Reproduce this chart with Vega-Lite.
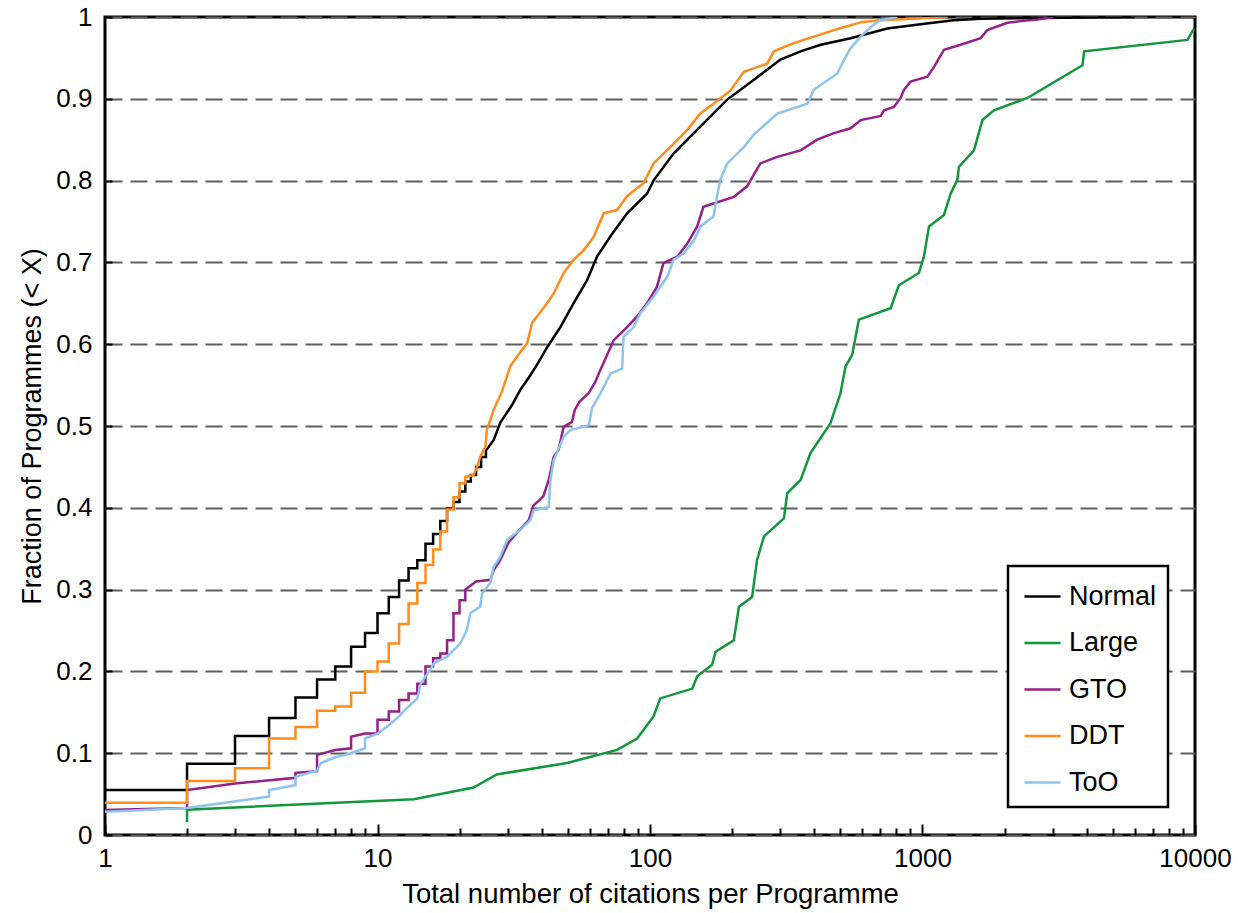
{
  "$schema": "https://vega.github.io/schema/vega-lite/v6.json",
  "width": 1090,
  "height": 818,
  "autosize": {"type": "none"},
  "padding": {"left": 105, "top": 17, "right": 43, "bottom": 78},
  "background": "white",
  "config": {
    "view": {"stroke": "black", "strokeWidth": 3},
    "font": "Liberation Sans",
    "legend": {"strokeWidth": 2.5}
  },
  "data": {
    "values": [
      {"series": "Normal", "citations": 1, "fraction": 0.055},
      {"series": "Normal", "citations": 2, "fraction": 0.055},
      {"series": "Normal", "citations": 2, "fraction": 0.087},
      {"series": "Normal", "citations": 3, "fraction": 0.087},
      {"series": "Normal", "citations": 3, "fraction": 0.121},
      {"series": "Normal", "citations": 4, "fraction": 0.121},
      {"series": "Normal", "citations": 4, "fraction": 0.143},
      {"series": "Normal", "citations": 5, "fraction": 0.143},
      {"series": "Normal", "citations": 5, "fraction": 0.168},
      {"series": "Normal", "citations": 6, "fraction": 0.168},
      {"series": "Normal", "citations": 6, "fraction": 0.19},
      {"series": "Normal", "citations": 7, "fraction": 0.19},
      {"series": "Normal", "citations": 7, "fraction": 0.206},
      {"series": "Normal", "citations": 8, "fraction": 0.206},
      {"series": "Normal", "citations": 8, "fraction": 0.23},
      {"series": "Normal", "citations": 9, "fraction": 0.23},
      {"series": "Normal", "citations": 9, "fraction": 0.247},
      {"series": "Normal", "citations": 10, "fraction": 0.247},
      {"series": "Normal", "citations": 10, "fraction": 0.271},
      {"series": "Normal", "citations": 11, "fraction": 0.271},
      {"series": "Normal", "citations": 11, "fraction": 0.291},
      {"series": "Normal", "citations": 12, "fraction": 0.291},
      {"series": "Normal", "citations": 12, "fraction": 0.311},
      {"series": "Normal", "citations": 13, "fraction": 0.311},
      {"series": "Normal", "citations": 13, "fraction": 0.326},
      {"series": "Normal", "citations": 14, "fraction": 0.326},
      {"series": "Normal", "citations": 14, "fraction": 0.336},
      {"series": "Normal", "citations": 15, "fraction": 0.336},
      {"series": "Normal", "citations": 15, "fraction": 0.356},
      {"series": "Normal", "citations": 16, "fraction": 0.356},
      {"series": "Normal", "citations": 16, "fraction": 0.368},
      {"series": "Normal", "citations": 17, "fraction": 0.368},
      {"series": "Normal", "citations": 17, "fraction": 0.384},
      {"series": "Normal", "citations": 18, "fraction": 0.384},
      {"series": "Normal", "citations": 18, "fraction": 0.399},
      {"series": "Normal", "citations": 19, "fraction": 0.399},
      {"series": "Normal", "citations": 19, "fraction": 0.407},
      {"series": "Normal", "citations": 20, "fraction": 0.407},
      {"series": "Normal", "citations": 20, "fraction": 0.42},
      {"series": "Normal", "citations": 21, "fraction": 0.42},
      {"series": "Normal", "citations": 21, "fraction": 0.432},
      {"series": "Normal", "citations": 22, "fraction": 0.432},
      {"series": "Normal", "citations": 22, "fraction": 0.44},
      {"series": "Normal", "citations": 23, "fraction": 0.44},
      {"series": "Normal", "citations": 23, "fraction": 0.45},
      {"series": "Normal", "citations": 24, "fraction": 0.45},
      {"series": "Normal", "citations": 24, "fraction": 0.462},
      {"series": "Normal", "citations": 25, "fraction": 0.462},
      {"series": "Normal", "citations": 25, "fraction": 0.47},
      {"series": "Normal", "citations": 26.7, "fraction": 0.483},
      {"series": "Normal", "citations": 28.2, "fraction": 0.504},
      {"series": "Normal", "citations": 29.4, "fraction": 0.513},
      {"series": "Normal", "citations": 31.2, "fraction": 0.526},
      {"series": "Normal", "citations": 33.4, "fraction": 0.544},
      {"series": "Normal", "citations": 36.4, "fraction": 0.562},
      {"series": "Normal", "citations": 38.5, "fraction": 0.575},
      {"series": "Normal", "citations": 41.9, "fraction": 0.596},
      {"series": "Normal", "citations": 46.9, "fraction": 0.621},
      {"series": "Normal", "citations": 52.4, "fraction": 0.65},
      {"series": "Normal", "citations": 58.7, "fraction": 0.678},
      {"series": "Normal", "citations": 63.9, "fraction": 0.707},
      {"series": "Normal", "citations": 71.6, "fraction": 0.732},
      {"series": "Normal", "citations": 82.4, "fraction": 0.76},
      {"series": "Normal", "citations": 97.5, "fraction": 0.784},
      {"series": "Normal", "citations": 103, "fraction": 0.8},
      {"series": "Normal", "citations": 122, "fraction": 0.833},
      {"series": "Normal", "citations": 153, "fraction": 0.866},
      {"series": "Normal", "citations": 192, "fraction": 0.899},
      {"series": "Normal", "citations": 240, "fraction": 0.923},
      {"series": "Normal", "citations": 301, "fraction": 0.948},
      {"series": "Normal", "citations": 357, "fraction": 0.958},
      {"series": "Normal", "citations": 423, "fraction": 0.966},
      {"series": "Normal", "citations": 545, "fraction": 0.974},
      {"series": "Normal", "citations": 743, "fraction": 0.986},
      {"series": "Normal", "citations": 984, "fraction": 0.991},
      {"series": "Normal", "citations": 1300, "fraction": 0.996},
      {"series": "Normal", "citations": 1634, "fraction": 0.998},
      {"series": "Normal", "citations": 6000, "fraction": 1.0},

      {"series": "Large", "citations": 2, "fraction": 0.016},
      {"series": "Large", "citations": 2, "fraction": 0.031},
      {"series": "Large", "citations": 13.6, "fraction": 0.0436},
      {"series": "Large", "citations": 22.5, "fraction": 0.058},
      {"series": "Large", "citations": 27.4, "fraction": 0.074},
      {"series": "Large", "citations": 49.6, "fraction": 0.088},
      {"series": "Large", "citations": 75.7, "fraction": 0.104},
      {"series": "Large", "citations": 89.7, "fraction": 0.118},
      {"series": "Large", "citations": 103, "fraction": 0.145},
      {"series": "Large", "citations": 109, "fraction": 0.167},
      {"series": "Large", "citations": 143, "fraction": 0.179},
      {"series": "Large", "citations": 149, "fraction": 0.194},
      {"series": "Large", "citations": 169, "fraction": 0.208},
      {"series": "Large", "citations": 174, "fraction": 0.224},
      {"series": "Large", "citations": 203, "fraction": 0.238},
      {"series": "Large", "citations": 212, "fraction": 0.279},
      {"series": "Large", "citations": 237, "fraction": 0.291},
      {"series": "Large", "citations": 247, "fraction": 0.336},
      {"series": "Large", "citations": 262, "fraction": 0.365},
      {"series": "Large", "citations": 310, "fraction": 0.387},
      {"series": "Large", "citations": 319, "fraction": 0.418},
      {"series": "Large", "citations": 357, "fraction": 0.434},
      {"series": "Large", "citations": 388, "fraction": 0.467},
      {"series": "Large", "citations": 459, "fraction": 0.503},
      {"series": "Large", "citations": 500, "fraction": 0.54},
      {"series": "Large", "citations": 522, "fraction": 0.573},
      {"series": "Large", "citations": 552, "fraction": 0.587},
      {"series": "Large", "citations": 584, "fraction": 0.63},
      {"series": "Large", "citations": 764, "fraction": 0.644},
      {"series": "Large", "citations": 819, "fraction": 0.672},
      {"series": "Large", "citations": 970, "fraction": 0.687},
      {"series": "Large", "citations": 1012, "fraction": 0.707},
      {"series": "Large", "citations": 1056, "fraction": 0.744},
      {"series": "Large", "citations": 1199, "fraction": 0.758},
      {"series": "Large", "citations": 1268, "fraction": 0.784},
      {"series": "Large", "citations": 1342, "fraction": 0.801},
      {"series": "Large", "citations": 1361, "fraction": 0.817},
      {"series": "Large", "citations": 1545, "fraction": 0.837},
      {"series": "Large", "citations": 1659, "fraction": 0.874},
      {"series": "Large", "citations": 1829, "fraction": 0.886},
      {"series": "Large", "citations": 2427, "fraction": 0.901},
      {"series": "Large", "citations": 3863, "fraction": 0.941},
      {"series": "Large", "citations": 3919, "fraction": 0.958},
      {"series": "Large", "citations": 9380, "fraction": 0.972},
      {"series": "Large", "citations": 9930, "fraction": 0.986},

      {"series": "GTO", "citations": 1, "fraction": 0.0306},
      {"series": "GTO", "citations": 2, "fraction": 0.033},
      {"series": "GTO", "citations": 2, "fraction": 0.055},
      {"series": "GTO", "citations": 3, "fraction": 0.063},
      {"series": "GTO", "citations": 5, "fraction": 0.07},
      {"series": "GTO", "citations": 5, "fraction": 0.076},
      {"series": "GTO", "citations": 6, "fraction": 0.078},
      {"series": "GTO", "citations": 6, "fraction": 0.098},
      {"series": "GTO", "citations": 7, "fraction": 0.104},
      {"series": "GTO", "citations": 8, "fraction": 0.106},
      {"series": "GTO", "citations": 8, "fraction": 0.12},
      {"series": "GTO", "citations": 9, "fraction": 0.124},
      {"series": "GTO", "citations": 10, "fraction": 0.124},
      {"series": "GTO", "citations": 10, "fraction": 0.141},
      {"series": "GTO", "citations": 11, "fraction": 0.141},
      {"series": "GTO", "citations": 11, "fraction": 0.151},
      {"series": "GTO", "citations": 12, "fraction": 0.151},
      {"series": "GTO", "citations": 12, "fraction": 0.165},
      {"series": "GTO", "citations": 13, "fraction": 0.165},
      {"series": "GTO", "citations": 13, "fraction": 0.173},
      {"series": "GTO", "citations": 14, "fraction": 0.173},
      {"series": "GTO", "citations": 14, "fraction": 0.185},
      {"series": "GTO", "citations": 15, "fraction": 0.185},
      {"series": "GTO", "citations": 15, "fraction": 0.206},
      {"series": "GTO", "citations": 16, "fraction": 0.206},
      {"series": "GTO", "citations": 16, "fraction": 0.216},
      {"series": "GTO", "citations": 17, "fraction": 0.216},
      {"series": "GTO", "citations": 17, "fraction": 0.222},
      {"series": "GTO", "citations": 18, "fraction": 0.222},
      {"series": "GTO", "citations": 18, "fraction": 0.238},
      {"series": "GTO", "citations": 19, "fraction": 0.238},
      {"series": "GTO", "citations": 19, "fraction": 0.271},
      {"series": "GTO", "citations": 20, "fraction": 0.271},
      {"series": "GTO", "citations": 20, "fraction": 0.287},
      {"series": "GTO", "citations": 21, "fraction": 0.287},
      {"series": "GTO", "citations": 21, "fraction": 0.3},
      {"series": "GTO", "citations": 23, "fraction": 0.31},
      {"series": "GTO", "citations": 26, "fraction": 0.312},
      {"series": "GTO", "citations": 26.7, "fraction": 0.324},
      {"series": "GTO", "citations": 28.2, "fraction": 0.336},
      {"series": "GTO", "citations": 30.2, "fraction": 0.357},
      {"series": "GTO", "citations": 32, "fraction": 0.367},
      {"series": "GTO", "citations": 35.9, "fraction": 0.385},
      {"series": "GTO", "citations": 37.4, "fraction": 0.403},
      {"series": "GTO", "citations": 40.6, "fraction": 0.414},
      {"series": "GTO", "citations": 42.5, "fraction": 0.434},
      {"series": "GTO", "citations": 44.3, "fraction": 0.462},
      {"series": "GTO", "citations": 46.2, "fraction": 0.471},
      {"series": "GTO", "citations": 48.2, "fraction": 0.499},
      {"series": "GTO", "citations": 51.7, "fraction": 0.505},
      {"series": "GTO", "citations": 53, "fraction": 0.52},
      {"series": "GTO", "citations": 55.2, "fraction": 0.53},
      {"series": "GTO", "citations": 59.5, "fraction": 0.54},
      {"series": "GTO", "citations": 63, "fraction": 0.554},
      {"series": "GTO", "citations": 65.6, "fraction": 0.568},
      {"series": "GTO", "citations": 73.6, "fraction": 0.605},
      {"series": "GTO", "citations": 82.4, "fraction": 0.621},
      {"series": "GTO", "citations": 89.7, "fraction": 0.634},
      {"series": "GTO", "citations": 97.5, "fraction": 0.65},
      {"series": "GTO", "citations": 106, "fraction": 0.67},
      {"series": "GTO", "citations": 112, "fraction": 0.699},
      {"series": "GTO", "citations": 126, "fraction": 0.707},
      {"series": "GTO", "citations": 137, "fraction": 0.723},
      {"series": "GTO", "citations": 149, "fraction": 0.744},
      {"series": "GTO", "citations": 157, "fraction": 0.768},
      {"series": "GTO", "citations": 171, "fraction": 0.772},
      {"series": "GTO", "citations": 203, "fraction": 0.78},
      {"series": "GTO", "citations": 227, "fraction": 0.793},
      {"series": "GTO", "citations": 254, "fraction": 0.821},
      {"series": "GTO", "citations": 293, "fraction": 0.829},
      {"series": "GTO", "citations": 357, "fraction": 0.837},
      {"series": "GTO", "citations": 411, "fraction": 0.85},
      {"series": "GTO", "citations": 473, "fraction": 0.858},
      {"series": "GTO", "citations": 545, "fraction": 0.864},
      {"series": "GTO", "citations": 593, "fraction": 0.874},
      {"series": "GTO", "citations": 703, "fraction": 0.879},
      {"series": "GTO", "citations": 722, "fraction": 0.886},
      {"series": "GTO", "citations": 785, "fraction": 0.89},
      {"series": "GTO", "citations": 831, "fraction": 0.901},
      {"series": "GTO", "citations": 855, "fraction": 0.911},
      {"series": "GTO", "citations": 904, "fraction": 0.921},
      {"series": "GTO", "citations": 1042, "fraction": 0.927},
      {"series": "GTO", "citations": 1102, "fraction": 0.939},
      {"series": "GTO", "citations": 1199, "fraction": 0.96},
      {"series": "GTO", "citations": 1380, "fraction": 0.966},
      {"series": "GTO", "citations": 1634, "fraction": 0.974},
      {"series": "GTO", "citations": 1729, "fraction": 0.984},
      {"series": "GTO", "citations": 2048, "fraction": 0.993},
      {"series": "GTO", "citations": 2291, "fraction": 0.995},
      {"series": "GTO", "citations": 2640, "fraction": 0.997},
      {"series": "GTO", "citations": 3030, "fraction": 1.0},

      {"series": "DDT", "citations": 1, "fraction": 0.0395},
      {"series": "DDT", "citations": 2, "fraction": 0.0395},
      {"series": "DDT", "citations": 2, "fraction": 0.066},
      {"series": "DDT", "citations": 3, "fraction": 0.066},
      {"series": "DDT", "citations": 3, "fraction": 0.0815},
      {"series": "DDT", "citations": 4, "fraction": 0.0815},
      {"series": "DDT", "citations": 4, "fraction": 0.118},
      {"series": "DDT", "citations": 5, "fraction": 0.118},
      {"series": "DDT", "citations": 5, "fraction": 0.132},
      {"series": "DDT", "citations": 6, "fraction": 0.132},
      {"series": "DDT", "citations": 6, "fraction": 0.152},
      {"series": "DDT", "citations": 7, "fraction": 0.152},
      {"series": "DDT", "citations": 7, "fraction": 0.157},
      {"series": "DDT", "citations": 8, "fraction": 0.157},
      {"series": "DDT", "citations": 8, "fraction": 0.174},
      {"series": "DDT", "citations": 9, "fraction": 0.174},
      {"series": "DDT", "citations": 9, "fraction": 0.2},
      {"series": "DDT", "citations": 10, "fraction": 0.2},
      {"series": "DDT", "citations": 10, "fraction": 0.212},
      {"series": "DDT", "citations": 11, "fraction": 0.212},
      {"series": "DDT", "citations": 11, "fraction": 0.234},
      {"series": "DDT", "citations": 12, "fraction": 0.234},
      {"series": "DDT", "citations": 12, "fraction": 0.258},
      {"series": "DDT", "citations": 13, "fraction": 0.258},
      {"series": "DDT", "citations": 13, "fraction": 0.283},
      {"series": "DDT", "citations": 14, "fraction": 0.283},
      {"series": "DDT", "citations": 14, "fraction": 0.308},
      {"series": "DDT", "citations": 15, "fraction": 0.308},
      {"series": "DDT", "citations": 15, "fraction": 0.33},
      {"series": "DDT", "citations": 16, "fraction": 0.33},
      {"series": "DDT", "citations": 16, "fraction": 0.349},
      {"series": "DDT", "citations": 17, "fraction": 0.349},
      {"series": "DDT", "citations": 17, "fraction": 0.371},
      {"series": "DDT", "citations": 18, "fraction": 0.371},
      {"series": "DDT", "citations": 18, "fraction": 0.398},
      {"series": "DDT", "citations": 19, "fraction": 0.398},
      {"series": "DDT", "citations": 19, "fraction": 0.413},
      {"series": "DDT", "citations": 20, "fraction": 0.413},
      {"series": "DDT", "citations": 20, "fraction": 0.43},
      {"series": "DDT", "citations": 21, "fraction": 0.43},
      {"series": "DDT", "citations": 21, "fraction": 0.438},
      {"series": "DDT", "citations": 22.5, "fraction": 0.44},
      {"series": "DDT", "citations": 23.2, "fraction": 0.45},
      {"series": "DDT", "citations": 23.8, "fraction": 0.462},
      {"series": "DDT", "citations": 24.9, "fraction": 0.475},
      {"series": "DDT", "citations": 25.2, "fraction": 0.495},
      {"series": "DDT", "citations": 26.7, "fraction": 0.52},
      {"series": "DDT", "citations": 28.6, "fraction": 0.542},
      {"series": "DDT", "citations": 29.4, "fraction": 0.554},
      {"series": "DDT", "citations": 30.7, "fraction": 0.573},
      {"series": "DDT", "citations": 32.5, "fraction": 0.585},
      {"series": "DDT", "citations": 35.4, "fraction": 0.601},
      {"series": "DDT", "citations": 36.9, "fraction": 0.626},
      {"series": "DDT", "citations": 41.9, "fraction": 0.65},
      {"series": "DDT", "citations": 44.3, "fraction": 0.662},
      {"series": "DDT", "citations": 48.2, "fraction": 0.687},
      {"series": "DDT", "citations": 52.4, "fraction": 0.703},
      {"series": "DDT", "citations": 57.1, "fraction": 0.715},
      {"series": "DDT", "citations": 62.1, "fraction": 0.731},
      {"series": "DDT", "citations": 67.6, "fraction": 0.76},
      {"series": "DDT", "citations": 75.7, "fraction": 0.764},
      {"series": "DDT", "citations": 82.4, "fraction": 0.781},
      {"series": "DDT", "citations": 94.8, "fraction": 0.797},
      {"series": "DDT", "citations": 103, "fraction": 0.821},
      {"series": "DDT", "citations": 122, "fraction": 0.845},
      {"series": "DDT", "citations": 137, "fraction": 0.862},
      {"series": "DDT", "citations": 153, "fraction": 0.882},
      {"series": "DDT", "citations": 171, "fraction": 0.894},
      {"series": "DDT", "citations": 197, "fraction": 0.91},
      {"series": "DDT", "citations": 221, "fraction": 0.933},
      {"series": "DDT", "citations": 269, "fraction": 0.943},
      {"series": "DDT", "citations": 285, "fraction": 0.958},
      {"series": "DDT", "citations": 337, "fraction": 0.968},
      {"series": "DDT", "citations": 399, "fraction": 0.976},
      {"series": "DDT", "citations": 473, "fraction": 0.984},
      {"series": "DDT", "citations": 545, "fraction": 0.99},
      {"series": "DDT", "citations": 600, "fraction": 0.994},
      {"series": "DDT", "citations": 700, "fraction": 0.996},
      {"series": "DDT", "citations": 1236, "fraction": 1.0},

      {"series": "ToO", "citations": 1, "fraction": 0.0285},
      {"series": "ToO", "citations": 2, "fraction": 0.033},
      {"series": "ToO", "citations": 3.3, "fraction": 0.043},
      {"series": "ToO", "citations": 4, "fraction": 0.047},
      {"series": "ToO", "citations": 4, "fraction": 0.055},
      {"series": "ToO", "citations": 5, "fraction": 0.061},
      {"series": "ToO", "citations": 5, "fraction": 0.071},
      {"series": "ToO", "citations": 6, "fraction": 0.079},
      {"series": "ToO", "citations": 6.2, "fraction": 0.088},
      {"series": "ToO", "citations": 7, "fraction": 0.095},
      {"series": "ToO", "citations": 8, "fraction": 0.1},
      {"series": "ToO", "citations": 9, "fraction": 0.106},
      {"series": "ToO", "citations": 9, "fraction": 0.118},
      {"series": "ToO", "citations": 10, "fraction": 0.124},
      {"series": "ToO", "citations": 10.8, "fraction": 0.132},
      {"series": "ToO", "citations": 12, "fraction": 0.145},
      {"series": "ToO", "citations": 12.8, "fraction": 0.155},
      {"series": "ToO", "citations": 14, "fraction": 0.167},
      {"series": "ToO", "citations": 14.4, "fraction": 0.185},
      {"series": "ToO", "citations": 15.6, "fraction": 0.202},
      {"series": "ToO", "citations": 16.1, "fraction": 0.21},
      {"series": "ToO", "citations": 18, "fraction": 0.218},
      {"series": "ToO", "citations": 20.1, "fraction": 0.234},
      {"series": "ToO", "citations": 21.3, "fraction": 0.251},
      {"series": "ToO", "citations": 21.9, "fraction": 0.271},
      {"series": "ToO", "citations": 23.8, "fraction": 0.279},
      {"series": "ToO", "citations": 24.2, "fraction": 0.295},
      {"series": "ToO", "citations": 25.9, "fraction": 0.308},
      {"series": "ToO", "citations": 26.7, "fraction": 0.328},
      {"series": "ToO", "citations": 28.2, "fraction": 0.34},
      {"series": "ToO", "citations": 29.9, "fraction": 0.361},
      {"series": "ToO", "citations": 33.4, "fraction": 0.373},
      {"series": "ToO", "citations": 36.4, "fraction": 0.385},
      {"series": "ToO", "citations": 37.4, "fraction": 0.397},
      {"series": "ToO", "citations": 42.5, "fraction": 0.401},
      {"series": "ToO", "citations": 43.1, "fraction": 0.434},
      {"series": "ToO", "citations": 44.3, "fraction": 0.458},
      {"series": "ToO", "citations": 48.2, "fraction": 0.487},
      {"series": "ToO", "citations": 51, "fraction": 0.495},
      {"series": "ToO", "citations": 59.6, "fraction": 0.501},
      {"series": "ToO", "citations": 61.3, "fraction": 0.522},
      {"series": "ToO", "citations": 65.8, "fraction": 0.54},
      {"series": "ToO", "citations": 71.6, "fraction": 0.564},
      {"series": "ToO", "citations": 79, "fraction": 0.57},
      {"series": "ToO", "citations": 80, "fraction": 0.609},
      {"series": "ToO", "citations": 87.1, "fraction": 0.621},
      {"series": "ToO", "citations": 92.2, "fraction": 0.638},
      {"series": "ToO", "citations": 103, "fraction": 0.658},
      {"series": "ToO", "citations": 116, "fraction": 0.683},
      {"series": "ToO", "citations": 122, "fraction": 0.703},
      {"series": "ToO", "citations": 133, "fraction": 0.711},
      {"series": "ToO", "citations": 145, "fraction": 0.727},
      {"series": "ToO", "citations": 153, "fraction": 0.744},
      {"series": "ToO", "citations": 171, "fraction": 0.756},
      {"series": "ToO", "citations": 176, "fraction": 0.78},
      {"series": "ToO", "citations": 181, "fraction": 0.801},
      {"series": "ToO", "citations": 192, "fraction": 0.821},
      {"series": "ToO", "citations": 221, "fraction": 0.841},
      {"series": "ToO", "citations": 240, "fraction": 0.856},
      {"series": "ToO", "citations": 293, "fraction": 0.882},
      {"series": "ToO", "citations": 378, "fraction": 0.894},
      {"series": "ToO", "citations": 399, "fraction": 0.911},
      {"series": "ToO", "citations": 487, "fraction": 0.931},
      {"series": "ToO", "citations": 514, "fraction": 0.947},
      {"series": "ToO", "citations": 545, "fraction": 0.962},
      {"series": "ToO", "citations": 593, "fraction": 0.976},
      {"series": "ToO", "citations": 663, "fraction": 0.991},
      {"series": "ToO", "citations": 702, "fraction": 0.996},
      {"series": "ToO", "citations": 808, "fraction": 1.0}
    ]
  },
  "mark": {"type": "line", "strokeWidth": 2.5, "clip": true},
  "encoding": {
    "x": {
      "field": "citations",
      "type": "quantitative",
      "scale": {"type": "log", "domain": [1, 10000], "nice": false},
      "axis": {
        "title": "Total number of citations per Programme",
        "titleFont": "Liberation Sans",
        "titleFontSize": 27.5,
        "titleFontWeight": "normal",
        "titleColor": "black",
        "titlePadding": 5,
        "values": [1, 2, 3, 4, 5, 6, 7, 8, 9, 10, 20, 30, 40, 50, 60, 70, 80, 90, 100, 200, 300, 400, 500, 600, 700, 800, 900, 1000, 2000, 3000, 4000, 5000, 6000, 7000, 8000, 9000, 10000],
        "format": "d",
        "labelExpr": "indexof([1, 10, 100, 1000, 10000], datum.value) >= 0 ? datum.label : ''",
        "labelFont": "Liberation Sans",
        "labelFontSize": 26,
        "labelColor": "black",
        "labelPadding": 21,
        "labelOverlap": false,
        "labelFlush": false,
        "labelBound": false,
        "domain": false,
        "grid": false,
        "tickColor": "black",
        "tickWidth": 2,
        "tickSize": {"condition": {"test": "indexof([1, 10, 100, 1000, 10000], datum.value) >= 0", "value": -11}, "value": -7}
      }
    },
    "y": {
      "field": "fraction",
      "type": "quantitative",
      "scale": {"domain": [0, 1], "nice": false},
      "axis": {
        "title": "Fraction of Programmes (< X)",
        "titleFont": "Liberation Sans",
        "titleFontSize": 27,
        "titleFontWeight": "normal",
        "titleColor": "black",
        "titlePadding": 9,
        "values": [0, 0.1, 0.2, 0.3, 0.4, 0.5, 0.6, 0.7, 0.8, 0.9, 1],
        "format": "~g",
        "labelFont": "Liberation Sans",
        "labelFontSize": 26,
        "labelColor": "black",
        "labelPadding": 20,
        "labelOverlap": false,
        "labelFlush": false,
        "labelBound": false,
        "domain": false,
        "grid": true,
        "gridColor": "#5e5e5e",
        "gridDash": [17, 8],
        "gridWidth": 2,
        "tickColor": "black",
        "tickWidth": 2,
        "tickSize": -7
      }
    },
    "color": {
      "field": "series",
      "type": "nominal",
      "scale": {
        "domain": ["Normal", "Large", "GTO", "DDT", "ToO"],
        "range": ["#000000", "#12963c", "#962087", "#ff8c1a", "#8dc3ec"]
      },
      "legend": {
        "title": null,
        "orient": "none",
        "legendX": 903,
        "legendY": 549,
        "symbolType": "stroke",
        "symbolSize": 1300,
        "symbolStrokeWidth": 2.5,
        "symbolOffset": 4,
        "labelFont": "Liberation Sans",
        "labelFontSize": 27,
        "labelColor": "black",
        "labelOffset": 7,
        "padding": 11,
        "rowPadding": 13.5,
        "strokeColor": "black",
        "fillColor": "white",
        "cornerRadius": 0
      }
    }
  }
}
